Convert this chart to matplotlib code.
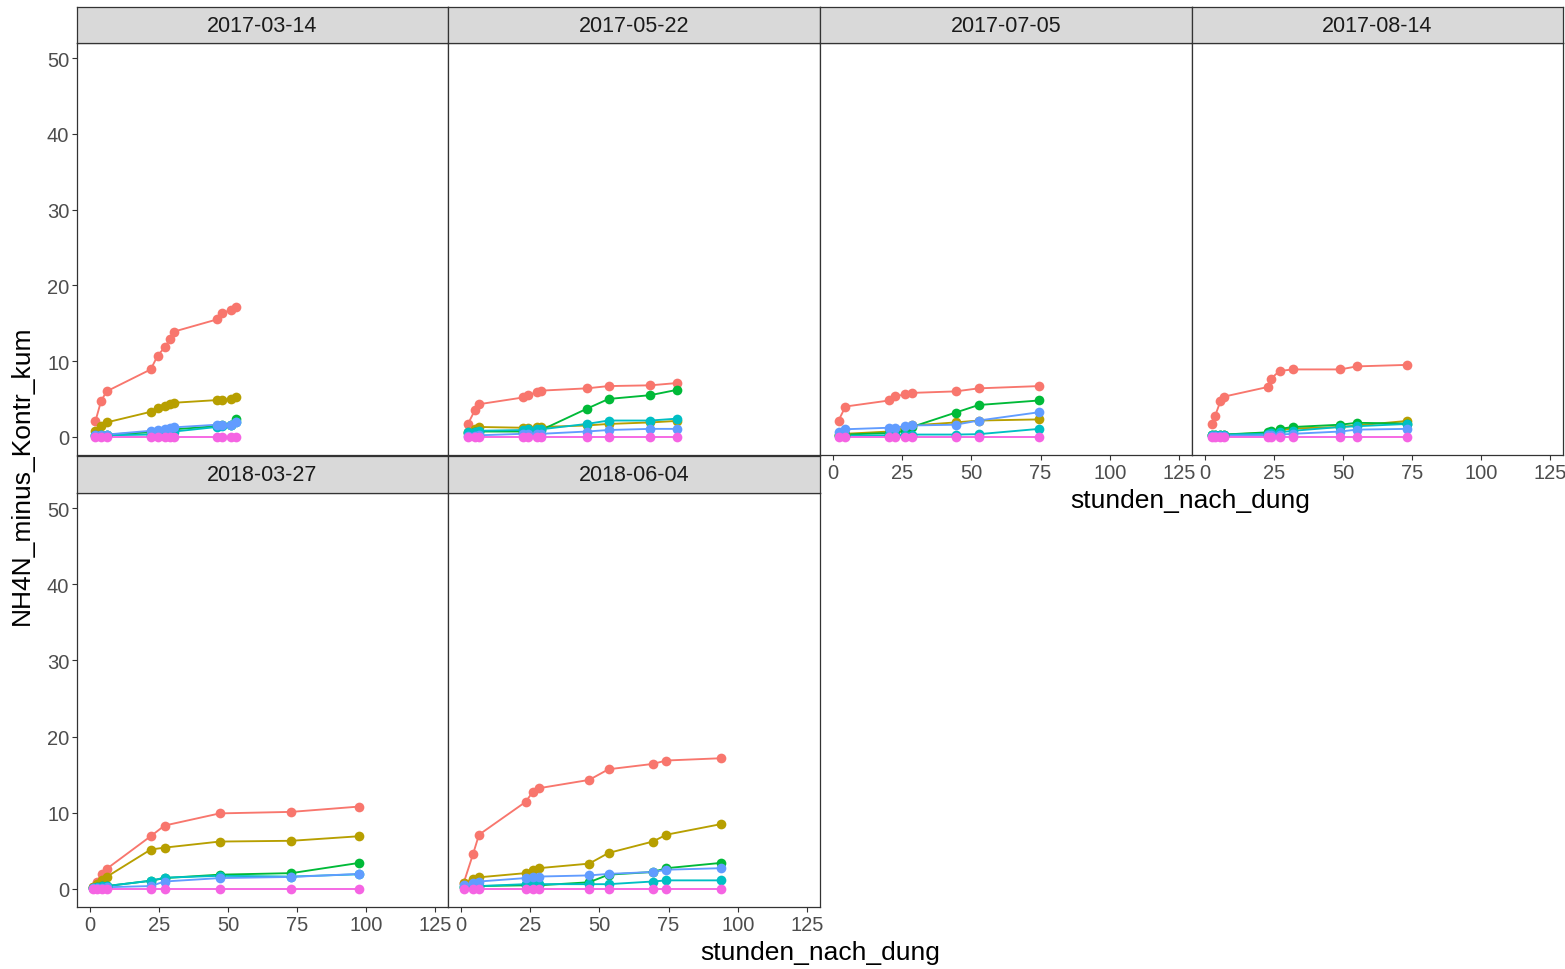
import numpy as np
import matplotlib
matplotlib.use("Agg")
import matplotlib.pyplot as plt

plt.rcParams['font.family'] = ['Liberation Sans', 'DejaVu Sans']

# facet dates and the six treatment series (ggplot hue colours)
dates = ["2017-03-14", "2017-05-22", "2017-07-05", "2017-08-14", "2018-03-27", "2018-06-04"]
treatments = ["A", "B", "C", "D", "E", "F"]
colors = ["#F8766D", "#B79F00", "#00BA38", "#00BFC4", "#619CFF", "#F564E3"]

# 2017-03-14
t1 = [2, 4, 6, 22, 24.5, 27, 29, 30.5, 46, 48, 51, 53]
a1 = [2.1, 4.7, 6.0, 8.9, 10.7, 11.8, 12.9, 13.9, 15.5, 16.3, 16.8, 17.2]
b1 = [0.8, 1.4, 1.9, 3.3, 3.8, 4.05, 4.35, 4.5, 4.85, 4.85, 5.0, 5.3]
c1 = [0.2, 0.3, 0.3, 0.6, 0.7, 0.8, 0.9, 1.0, 1.4, 1.5, 1.6, 2.3]
d1 = [0.1, 0.2, 0.2, 0.3, 0.4, 0.5, 0.6, 0.7, 1.3, 1.4, 1.5, 2.0]
e1 = [0.2, 0.3, 0.3, 0.8, 0.95, 1.05, 1.15, 1.25, 1.6, 1.6, 1.6, 2.0]
f1 = [0.0] * 12

# 2017-05-22
t2 = [2.5, 5, 6.4, 22.5, 24.3, 27.3, 29, 45.4, 53.3, 68.4, 78]
a2 = [1.7, 3.5, 4.3, 5.2, 5.5, 5.9, 6.1, 6.4, 6.7, 6.8, 7.1]
b2 = [0.7, 1.0, 1.3, 1.2, 1.2, 1.3, 1.3, 1.5, 1.7, 1.9, 2.1]
c2 = [0.5, 0.6, 0.7, 0.7, 0.7, 0.8, 0.9, 3.7, 5.0, 5.5, 6.2]
d2 = [0.6, 0.7, 0.8, 0.9, 1.0, 1.0, 1.0, 1.7, 2.15, 2.15, 2.4]
e2 = [0.1, 0.1, 0.2, 0.4, 0.4, 0.4, 0.4, 0.7, 0.9, 1.05, 1.05]
f2 = [0.0] * 11

# 2017-07-05
t3 = [2, 4.5, 20.3, 22.4, 26, 28.5, 44.3, 52.6, 74.5]
a3 = [2.15, 4.0, 4.8, 5.35, 5.6, 5.8, 6.0, 6.4, 6.7]
b3 = [0.3, 0.4, 0.7, 0.8, 1.2, 1.5, 1.9, 2.15, 2.3]
c3 = [0.25, 0.3, 0.5, 0.6, 0.8, 1.3, 3.2, 4.2, 4.8]
d3 = [0.1, 0.15, 0.2, 0.2, 0.25, 0.3, 0.3, 0.35, 1.05]
e3 = [0.6, 1.0, 1.2, 1.2, 1.4, 1.5, 1.6, 2.15, 3.25]
f3 = [0.0] * 9

# 2017-08-14
t4 = [2.6, 3.7, 5.6, 6.8, 23, 24, 27, 32, 49, 55, 73.3]
a4 = [1.7, 2.8, 4.7, 5.3, 6.6, 7.7, 8.7, 8.9, 8.9, 9.3, 9.5]
b4 = [0.2, 0.2, 0.3, 0.3, 0.5, 0.6, 0.9, 1.1, 1.3, 1.5, 2.1]
c4 = [0.2, 0.2, 0.3, 0.3, 0.6, 0.8, 1.05, 1.3, 1.6, 1.85, 1.75]
d4 = [0.2, 0.25, 0.3, 0.3, 0.4, 0.5, 0.6, 0.8, 1.3, 1.4, 1.7]
e4 = [0.1, 0.1, 0.15, 0.15, 0.2, 0.25, 0.3, 0.4, 0.7, 0.95, 1.05]
f4 = [0.0] * 11

# 2018-03-27
t5 = [1, 2.5, 4.2, 6, 22, 27, 47, 73, 97.6]
a5 = [0.2, 0.9, 1.9, 2.6, 6.9, 8.3, 9.9, 10.1, 10.8]
b5 = [0.2, 0.6, 1.2, 1.55, 5.15, 5.4, 6.2, 6.3, 6.9]
c5 = [0.1, 0.2, 0.3, 0.35, 1.05, 1.4, 1.85, 2.05, 3.4]
d5 = [0.1, 0.2, 0.3, 0.35, 1.05, 1.45, 1.7, 1.6, 1.9]
e5 = [0.05, 0.1, 0.15, 0.2, 0.35, 0.95, 1.4, 1.55, 1.95]
f5 = [0.0] * 9

# 2018-06-04
t6 = [1, 4.3, 6.5, 23.3, 26, 28, 46.3, 53.3, 69.3, 74.2, 94.1]
a6 = [0.8, 4.5, 7.1, 11.4, 12.75, 13.2, 14.3, 15.7, 16.4, 16.85, 17.15]
b6 = [0.8, 1.3, 1.5, 2.05, 2.4, 2.7, 3.3, 4.7, 6.2, 7.1, 8.5]
c6 = [0.2, 0.3, 0.35, 0.45, 0.45, 0.45, 0.85, 1.85, 2.2, 2.7, 3.4]
d6 = [0.2, 0.3, 0.35, 0.6, 0.6, 0.6, 0.6, 0.6, 0.95, 1.1, 1.1]
e6 = [0.45, 0.7, 0.95, 1.4, 1.6, 1.6, 1.75, 1.95, 2.2, 2.5, 2.7]
f6 = [0.0] * 11

panels = [
    (t1, [a1, b1, c1, d1, e1, f1]),
    (t2, [a2, b2, c2, d2, e2, f2]),
    (t3, [a3, b3, c3, d3, e3, f3]),
    (t4, [a4, b4, c4, d4, e4, f4]),
    (t5, [a5, b5, c5, d5, e5, f5]),
    (t6, [a6, b6, c6, d6, e6, f6]),
]

xticks = [0, 25, 50, 75, 100, 125]
yticks = [0, 10, 20, 30, 40, 50]

W, H = 1565, 970
fig = plt.figure(figsize=(W / 100, H / 100), dpi=100)


def px_rect(x0, y0, x1, y1):
    return [x0 / W, 1 - y1 / H, (x1 - x0) / W, (y1 - y0) / H]


col_edges = [(77, 448), (448, 820), (820, 1192), (1192, 1563)]
row_edges = [((8, 44), (44, 456)), ((457, 494), (494, 908))]
positions = [(0, 0), (0, 1), (0, 2), (0, 3), (1, 0), (1, 1)]
show_x = {2, 3, 4, 5}

edge = "#333333"
for i, ((t, series), (r, c)) in enumerate(zip(panels, positions)):
    x0, x1 = col_edges[c]
    (sy0, sy1), (py0, py1) = row_edges[r]

    ax = fig.add_axes(px_rect(x0, py0, x1, py1))
    for y, col in zip(series, colors):
        ax.plot(t, y, color=col, lw=1.35, zorder=2)
    for y, col in zip(series, colors):
        ax.plot(t, y, 'o', color=col, ms=7, mew=0, zorder=3)
    ax.set_xlim(-4.7, 129.7)
    ax.set_ylim(-2.4, 52.0)
    ax.set_xticks(xticks)
    ax.set_yticks(yticks)
    for s in ax.spines.values():
        s.set_color(edge)
        s.set_linewidth(0.9)
    ax.tick_params(colors=edge, labelcolor="#4D4D4D", labelsize=14.5,
                   length=3.5, width=0.8, pad=2)
    if c != 0:
        ax.tick_params(axis='y', left=False, labelleft=False)
    if i not in show_x:
        ax.tick_params(axis='x', bottom=False, labelbottom=False)

    # facet strip
    sx = fig.add_axes(px_rect(x0, sy0, x1, sy1))
    sx.set_facecolor("#D9D9D9")
    sx.set_xticks([])
    sx.set_yticks([])
    for s in sx.spines.values():
        s.set_color(edge)
        s.set_linewidth(0.9)
    sx.text(0.5, 0.5, dates[i], ha='center', va='center', fontsize=15.5,
            color="#1A1A1A", transform=sx.transAxes)

fig.text(820 / W, 1 - 953 / H, "stunden_nach_dung", ha='center', va='center', fontsize=19)
fig.text(1190 / W, 1 - 501 / H, "stunden_nach_dung", ha='center', va='center', fontsize=19)
fig.text(22 / W, 1 - 475 / H, "NH4N_minus_Kontr_kum", ha='center', va='center',
         rotation=90, fontsize=19)

fig.savefig("out.png", dpi=100)
